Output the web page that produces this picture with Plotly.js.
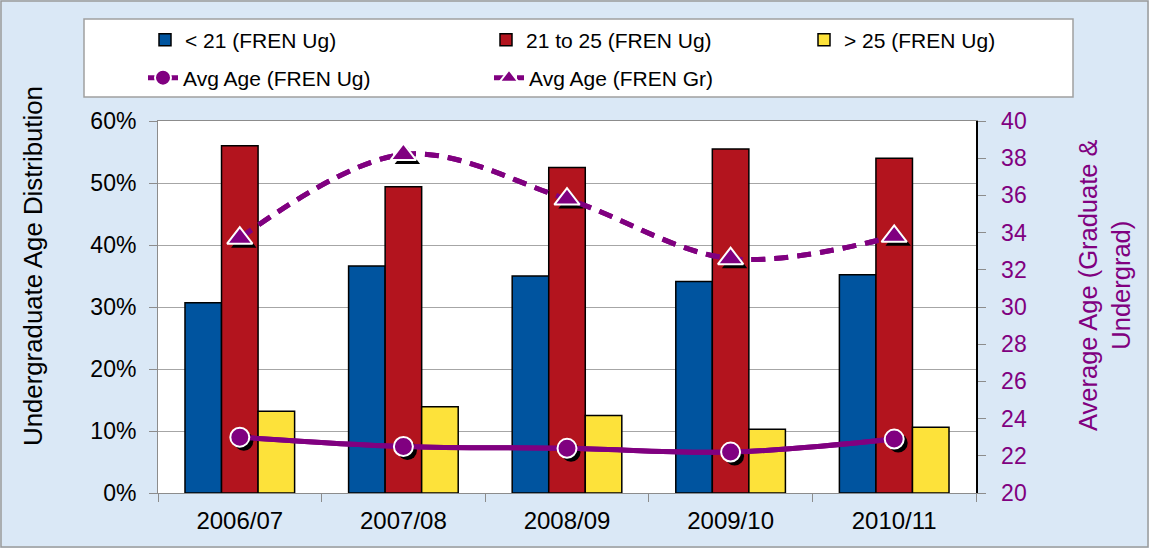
<!DOCTYPE html>
<html>
<head>
<meta charset="utf-8">
<script src="https://cdn.plot.ly/plotly-3.0.1.min.js"></script>
<style>
  html, body { margin: 0; padding: 0; background: #dae8f6; }
  #chart { width: 1149px; height: 548px; }
</style>
</head>
<body>
<div id="chart"></div>
<script>
// ---- data ----
var categories = ['2006/07', '2007/08', '2008/09', '2009/10', '2010/11'];
var under21 = [0.307, 0.366, 0.350, 0.341, 0.352];
var age21to25 = [0.560, 0.494, 0.525, 0.555, 0.540];
var over25 = [0.132, 0.139, 0.125, 0.103, 0.106];
var avgAgeUg = [23.0, 22.5, 22.4, 22.2, 22.9];
var avgAgeGr = [33.7, 38.2, 35.8, 32.6, 33.8];
var seriesNames = ['< 21 (FREN Ug)', '21 to 25 (FREN Ug)', '> 25 (FREN Ug)', 'Avg Age (FREN Ug)', 'Avg Age (FREN Gr)'];
var leftTitle = 'Undergraduate Age Distribution';
var rightTitle = 'Average Age (Graduate &amp;<br>Undergrad)';

// ---- style ----
var FONT = 'Liberation Sans, Arial, sans-serif';
var PURPLE = '#800080';
var BLUE = '#00549F', RED = '#B3141E', YELLOW = '#FDE23A';
// plot area geometry (px) used for paper-coordinate placement
var L = 158, R = 173, T = 121, B = 55, W = 1149, H = 548;
var PW = W - L - R, PH = H - T - B;
function px(x) { return (x - L) / PW; }
function py(y) { return (H - B - y) / PH; }
// shadow offset for markers
var SHX = 4, SHY = 4;
var dx = SHX * 5 / PW;
var dy = SHY * 20 / PH;

var barLine = { color: '#000', width: 1.5 };
var traces = [
  { type: 'bar', x: categories, y: under21, name: seriesNames[0], marker: { color: BLUE, line: barLine }, legend: 'legend' },
  { type: 'bar', x: categories, y: age21to25, name: seriesNames[1], marker: { color: RED, line: barLine }, legend: 'legend2' },
  { type: 'bar', x: categories, y: over25, name: seriesNames[2], marker: { color: YELLOW, line: barLine }, legend: 'legend3' },
  // lines on visible right axis
  { type: 'scatter', mode: 'lines', x: categories, y: avgAgeUg, yaxis: 'y2', showlegend: false, hoverinfo: 'skip',
    line: { color: PURPLE, width: 5, shape: 'spline', smoothing: 1 } },
  { type: 'scatter', mode: 'lines', x: categories, y: avgAgeGr, yaxis: 'y2', showlegend: false, hoverinfo: 'skip',
    line: { color: PURPLE, width: 5, dash: '14px,9px', shape: 'spline', smoothing: 1 } },
  // marker shadows
  { type: 'scatter', mode: 'markers', x: categories, y: avgAgeUg, xaxis: 'x2', yaxis: 'y3', showlegend: false, hoverinfo: 'skip',
    marker: { symbol: 'circle', size: 19, color: '#000' } },
  { type: 'scatter', mode: 'markers', x: categories, y: avgAgeGr, xaxis: 'x2', yaxis: 'y3', showlegend: false, hoverinfo: 'skip',
    marker: { symbol: 'triangle-up', size: 22, color: '#000' } },
  // main line + markers
  { type: 'scatter', mode: 'lines+markers', x: categories, y: avgAgeUg, xaxis: 'x3', yaxis: 'y4', name: seriesNames[3], legend: 'legend4',
    line: { color: PURPLE, width: 5, shape: 'spline', smoothing: 1 },
    marker: { symbol: 'circle', size: 19, color: PURPLE, line: { color: '#fff', width: 2 } } },
  { type: 'scatter', mode: 'lines+markers', x: categories, y: avgAgeGr, xaxis: 'x3', yaxis: 'y4', name: seriesNames[4], legend: 'legend5',
    line: { color: PURPLE, width: 5, dash: '14px,9px', shape: 'spline', smoothing: 1 },
    marker: { symbol: 'triangle-up', size: 22, color: PURPLE, line: { color: '#fff', width: 2 } } }
];

function legendAt(xpx, ycenter) {
  return { x: px(xpx), y: py(ycenter), xanchor: 'left', yanchor: 'middle', orientation: 'h',
    bgcolor: 'rgba(0,0,0,0)', borderwidth: 0, font: { family: FONT, size: 21, color: '#000' } };
}

var layout = {
  width: W, height: H,
  margin: { l: L, r: R, t: T, b: B, pad: 0 },
  paper_bgcolor: '#dae8f6',
  plot_bgcolor: '#ffffff',
  font: { family: FONT, color: '#000' },
  barmode: 'group', bargap: 0.33, bargroupgap: 0,
  xaxis: {
    type: 'category', categoryorder: 'array', categoryarray: categories, range: [-0.5, 4.5],
    showline: true, linecolor: '#8c8c8c', linewidth: 1, mirror: true,
    ticks: 'outside', tickson: 'boundaries', ticklen: 8, tickcolor: '#8c8c8c', ticklabelstandoff: 6,
    showgrid: false, automargin: false, fixedrange: true,
    tickfont: { family: FONT, size: 24, color: '#000' }
  },
  yaxis: {
    range: [0, 0.6], dtick: 0.1, tickformat: '.0%',
    showline: true, linecolor: '#8c8c8c', linewidth: 1,
    ticks: 'outside', ticklen: 8, tickcolor: '#8c8c8c', ticklabelstandoff: 8,
    showgrid: true, gridcolor: '#a6a6a6', gridwidth: 1, zeroline: false, automargin: false,
    tickfont: { family: FONT, size: 23, color: '#000' }
  },
  yaxis2: {
    overlaying: 'y', side: 'right', anchor: 'x', range: [20, 40], dtick: 2,
    showline: true, linecolor: '#000', linewidth: 1.5,
    ticks: 'outside', ticklen: 8, tickcolor: '#8c8c8c', ticklabelstandoff: 11,
    showgrid: false, zeroline: false, automargin: false,
    tickfont: { family: FONT, size: 23, color: PURPLE }
  },
  xaxis2: { type: 'category', categoryorder: 'array', categoryarray: categories, overlaying: 'x', anchor: 'y3',
    range: [-0.5 - dx, 4.5 - dx], visible: false, fixedrange: true },
  yaxis3: { overlaying: 'y', anchor: 'x2', range: [20 + dy, 40 + dy], visible: false },
  xaxis3: { type: 'category', categoryorder: 'array', categoryarray: categories, overlaying: 'x', anchor: 'y4',
    range: [-0.5, 4.5], visible: false, fixedrange: true },
  yaxis4: { overlaying: 'y', anchor: 'x3', range: [20, 40], visible: false },
  legend: legendAt(145, 40),
  legend2: legendAt(486, 40),
  legend3: legendAt(804, 40),
  legend4: legendAt(143, 78),
  legend5: legendAt(489, 78),
  annotations: [
    { xref: 'paper', yref: 'paper', x: px(33), y: py(266), xanchor: 'center', yanchor: 'middle',
      text: leftTitle, textangle: -90, showarrow: false,
      font: { family: FONT, size: 25.8, color: '#000' } },
    { xref: 'paper', yref: 'paper', x: px(1104), y: py(285), xanchor: 'center', yanchor: 'middle',
      text: rightTitle, textangle: -90, showarrow: false, align: 'center',
      font: { family: FONT, size: 25.5, color: PURPLE } }
  ],
  shapes: [
    { type: 'rect', xref: 'paper', yref: 'paper', layer: 'below',
      x0: px(84), x1: px(1073), y0: py(97), y1: py(19),
      fillcolor: '#ffffff', line: { color: '#a0a0a0', width: 1.5 } },
    { type: 'rect', xref: 'paper', yref: 'paper', layer: 'below',
      x0: px(1), x1: px(1148), y0: py(547), y1: py(1),
      fillcolor: 'rgba(0,0,0,0)', line: { color: '#9a9a9a', width: 1.5 } }
  ],
  showlegend: true
};

Plotly.newPlot('chart', traces, layout, { displayModeBar: false, staticPlot: true });
</script>
</body>
</html>
